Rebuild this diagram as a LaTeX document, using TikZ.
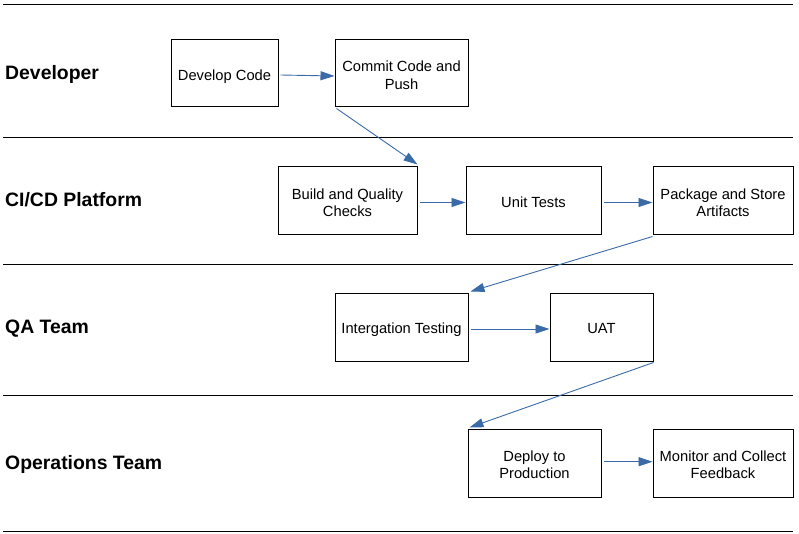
\documentclass[tikz,border=0pt]{standalone}
\usepackage{fontspec}
\setmainfont{Liberation Sans}
\usetikzlibrary{arrows.meta}
\definecolor{arrowblue}{HTML}{3A6BA8}
\newcommand{\boxtext}[1]{\raisebox{-3.3pt}[\height][\depth]{\begin{tabular}{@{}c@{}}#1\end{tabular}}}
\begin{document}
\begin{tikzpicture}[x=1pt,y=-1pt,
  stepbox/.style={draw=black,line width=1pt,fill=white,inner sep=0pt,
    font=\fontsize{14.7}{17.5}\selectfont},
  lane/.style={draw=black,line width=1pt},
  lanelabel/.style={anchor=base west,inner sep=0pt,font=\fontsize{19.4}{22}\selectfont\bfseries},
  flow/.style={draw=arrowblue,line width=0.9pt,-{Triangle[length=14pt,width=9pt]}}]
\useasboundingbox (0,0) rectangle (799,534);
% lane separators
\coordinate (l0a) at (3,5);   \coordinate (l0b) at (793,5);
\coordinate (l1a) at (3,138); \coordinate (l1b) at (793,138);
\coordinate (l2a) at (3,264); \coordinate (l2b) at (793,264);
\coordinate (l3a) at (3,395); \coordinate (l3b) at (793,395);
\coordinate (l4a) at (3,531); \coordinate (l4b) at (793,531);
\draw[lane] (l0a) -- (l0b);
\draw[lane] (l1a) -- (l1b);
\draw[lane] (l2a) -- (l2b);
\draw[lane] (l3a) -- (l3b);
\draw[lane] (l4a) -- (l4b);
% lane labels
\node[lanelabel] (ldev) at (5,80) {Developer};
\node[lanelabel] (lci) at (5,207) {CI/CD Platform};
\node[lanelabel] (lqa) at (5,333) {QA Team};
\node[lanelabel] (lops) at (5,469) {Operations Team};
% boxes
\node[stepbox,minimum width=107pt,minimum height=67pt] (dev) at (224.5,73.5) {\boxtext{Develop Code}};
\node[stepbox,minimum width=133pt,minimum height=67pt] (commit) at (401.5,73.5) {\boxtext{Commit Code and\\Push}};
\node[stepbox,minimum width=139pt,minimum height=68pt] (build) at (347.5,201) {\boxtext{Build and Quality\\Checks}};
\node[stepbox,minimum width=135pt,minimum height=68pt] (unit) at (533.5,201) {\boxtext{Unit Tests}};
\node[stepbox,minimum width=140pt,minimum height=68pt] (pack) at (723,201) {\boxtext{Package and Store\\Artifacts}};
\node[stepbox,minimum width=133pt,minimum height=68pt] (integ) at (401.5,327) {\boxtext{Intergation Testing}};
\node[stepbox,minimum width=103pt,minimum height=68pt] (uat) at (601.5,327) {\boxtext{UAT}};
\node[stepbox,minimum width=133pt,minimum height=68pt] (deploy) at (534.5,463) {\boxtext{Deploy to\\Production}};
\node[stepbox,minimum width=140pt,minimum height=68pt] (mon) at (723,463) {\boxtext{Monitor and Collect\\Feedback}};
% connectors
\draw[flow] ([xshift=2pt,yshift=-1.5pt]dev.east) -- ([yshift=-2.5pt]commit.west);
\draw[flow] ([xshift=2pt,yshift=-1pt]commit.south west) -- ([yshift=2pt]build.north east);
\draw[flow] ([xshift=2pt,yshift=-1.5pt]build.east) -- ([yshift=-1.5pt]unit.west);
\draw[flow] ([xshift=2pt,yshift=-1.5pt]unit.east) -- ([yshift=-1.5pt]pack.west);
\draw[flow] ([yshift=-1pt]pack.south west) -- ([xshift=2pt,yshift=1pt]integ.north east);
\draw[flow] ([xshift=2pt,yshift=-2pt]integ.east) -- ([yshift=-2pt]uat.west);
\draw[flow] ([yshift=-1pt]uat.south east) -- ([xshift=2pt,yshift=1pt]deploy.north west);
\draw[flow] ([xshift=2pt,yshift=1.3pt]deploy.east) -- ([yshift=1.3pt]mon.west);
\end{tikzpicture}
\end{document}
